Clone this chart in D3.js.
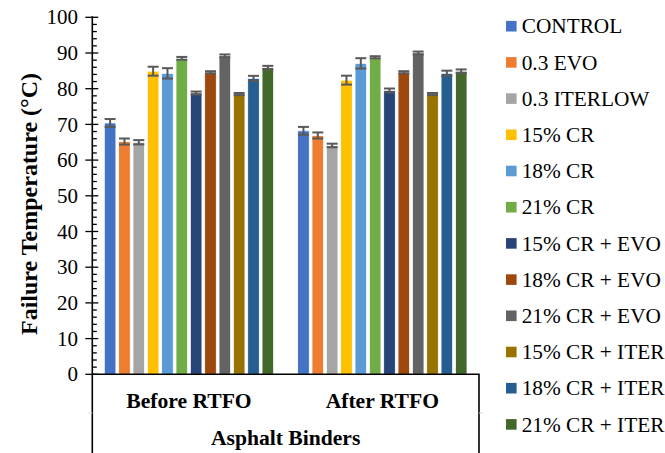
<!DOCTYPE html>
<html>
<head>
<meta charset="utf-8">
<script src="https://cdn.jsdelivr.net/npm/d3@7"></script>
<style>
  html, body { margin: 0; padding: 0; background: #fff; }
  svg text { font-family: "Liberation Serif", "Times New Roman", "DejaVu Serif", serif; }
</style>
</head>
<body>
<svg id="chart" width="665" height="453" font-family="Liberation Serif, Times New Roman, serif"></svg>
<script>
// Binder groups (x categories)
const conditions = ["Before RTFO", "After RTFO"];

// Binder blends (series)
const binders = [
  "CONTROL", "0.3 EVO", "0.3 ITERLOW", "15% CR", "18% CR", "21% CR",
  "15% CR + EVO", "18% CR + EVO", "21% CR + EVO",
  "15% CR + ITER", "18% CR + ITER", "21% CR + ITER"
];

// Failure temperature (°C), one entry per binder
const beforeRTFO = [70.4, 65.2, 65.0, 84.9, 84.3, 88.5, 78.8, 84.6, 89.2, 78.5, 82.9, 85.9];
const afterRTFO  = [68.2, 66.9, 64.1, 82.4, 87.1, 88.8, 79.5, 84.6, 90.0, 78.5, 84.3, 84.9];

// Standard deviation shown by the error bars
const beforeErr = [1.1, 0.85, 0.6, 1.25, 1.45, 0.4, 0.4, 0.3, 0.4, 0.3, 0.7, 0.5];
const afterErr  = [1.1, 0.85, 0.5, 1.25, 1.45, 0.3, 0.55, 0.3, 0.4, 0.3, 0.75, 0.5];

const colors = [
  "#4472C4", "#ED7D31", "#A5A5A5", "#FFC000", "#5B9BD5", "#70AD47",
  "#264478", "#9E480E", "#636363", "#997300", "#255E91", "#43682B"
];

const yTicks = [0, 10, 20, 30, 40, 50, 60, 70, 80, 90, 100];

const values = [beforeRTFO, afterRTFO];
const errors = [beforeErr, afterErr];

const FONT = "'Liberation Serif', 'Times New Roman', 'DejaVu Serif', serif";

const svg = d3.select("#chart");

const plot = { left: 92.3, right: 479, top: 17.3, bottom: 374.3, boxBottom: 453 };

const y = d3.scaleLinear().domain([0, 100]).range([plot.bottom, plot.top]);
const x0 = d3.scaleBand().domain(conditions).range([plot.left, plot.right]);
const groupPad = 12;
const x1 = d3.scaleBand().domain(binders)
  .range([groupPad, x0.bandwidth() - groupPad])
  .paddingInner(0.19).paddingOuter(0);
const color = d3.scaleOrdinal().domain(binders).range(colors);

// Bars
const groups = svg.append("g").selectAll("g")
  .data(conditions)
  .join("g")
  .attr("transform", c => `translate(${x0(c)},0)`);

groups.each(function (c, ci) {
  const g = d3.select(this);
  const rows = binders.map((b, i) => ({ b, v: values[ci][i], e: errors[ci][i] }));

  g.selectAll("rect")
    .data(rows)
    .join("rect")
    .attr("x", d => x1(d.b))
    .attr("y", d => y(d.v))
    .attr("width", x1.bandwidth())
    .attr("height", d => y(0) - y(d.v))
    .attr("fill", d => color(d.b))
    .attr("stroke", "#ffffff")
    .attr("stroke-width", 0.8);

  // Error bars
  const eb = g.selectAll("g.err")
    .data(rows)
    .join("g")
    .attr("class", "err")
    .attr("stroke", "#595959")
    .attr("stroke-width", 2);
  const cx = d => x1(d.b) + x1.bandwidth() / 2;
  const half = 5.5;
  eb.append("line")
    .attr("x1", cx).attr("x2", cx)
    .attr("y1", d => y(d.v + d.e)).attr("y2", d => y(d.v - d.e));
  eb.append("line")
    .attr("x1", d => cx(d) - half).attr("x2", d => cx(d) + half)
    .attr("y1", d => y(d.v + d.e)).attr("y2", d => y(d.v + d.e));
  eb.append("line")
    .attr("x1", d => cx(d) - half).attr("x2", d => cx(d) + half)
    .attr("y1", d => y(d.v - d.e)).attr("y2", d => y(d.v - d.e));
});

// Y axis: major ticks cross the line, minor ticks point inward
const axisG = svg.append("g").attr("stroke", "#000");
const minorTicks = d3.range(0, 101, 2).filter(v => v % 10 !== 0);
axisG.selectAll("line.minor")
  .data(minorTicks)
  .join("line")
  .attr("class", "minor")
  .attr("x1", plot.left).attr("x2", plot.left + 4.5)
  .attr("y1", d => y(d)).attr("y2", d => y(d))
  .attr("stroke-width", 1.3);
axisG.selectAll("line.major")
  .data(yTicks)
  .join("line")
  .attr("class", "major")
  .attr("x1", plot.left - 7).attr("x2", plot.left + 6)
  .attr("y1", d => y(d)).attr("y2", d => y(d))
  .attr("stroke-width", 1.3);

svg.append("g").selectAll("text")
  .data(yTicks)
  .join("text")
  .attr("x", 78)
  .attr("y", d => y(d))
  .attr("dy", "0.34em")
  .attr("text-anchor", "end")
  .style("font-family", FONT)
  .attr("font-size", 21)
  .attr("fill", "#000")
  .text(d => d);

// Axis line plus the category box below the plot
svg.append("path")
  .attr("d", `M${plot.left},${plot.top - 1}V${plot.boxBottom}M${plot.left},${plot.bottom}H${plot.right}V${plot.boxBottom}`)
  .attr("fill", "none")
  .attr("stroke", "#000")
  .attr("stroke-width", 1.6);

// Faint separators between the two category levels
svg.append("g").attr("stroke", "#d9d9d9").attr("stroke-width", 1)
  .selectAll("line")
  .data([[plot.left - 4, plot.left], [plot.right, plot.right + 4]])
  .join("line")
  .attr("x1", d => d[0]).attr("x2", d => d[1])
  .attr("y1", 413).attr("y2", 413);

// Category labels
svg.append("g").selectAll("text")
  .data(conditions)
  .join("text")
  .attr("x", c => x0(c) + x0.bandwidth() / 2)
  .attr("y", 407.5)
  .attr("text-anchor", "middle")
  .style("font-family", FONT)
  .attr("font-size", 21.6)
  .attr("font-weight", "bold")
  .text(c => c);

svg.append("text")
  .attr("x", (plot.left + plot.right) / 2)
  .attr("y", 445)
  .attr("text-anchor", "middle")
  .style("font-family", FONT)
  .attr("font-size", 21.6)
  .attr("font-weight", "bold")
  .text("Asphalt Binders");

// Y axis title
svg.append("text")
  .attr("transform", `translate(37,204) rotate(-90)`)
  .attr("text-anchor", "middle")
  .style("font-family", FONT)
  .attr("font-size", 24)
  .attr("font-weight", "bold")
  .text("Failure Temperature (°C)");

// Legend
const legend = svg.append("g").selectAll("g")
  .data(binders)
  .join("g")
  .attr("transform", (d, i) => `translate(506,${26.2 + i * 36.2})`);
legend.append("rect")
  .attr("x", 0).attr("y", -5.3)
  .attr("width", 10.6).attr("height", 10.6)
  .attr("fill", d => color(d));
legend.append("text")
  .attr("x", 15.7)
  .attr("y", 0)
  .attr("dy", "0.34em")
  .style("font-family", FONT)
  .attr("font-size", 21.3)
  .attr("fill", "#000")
  .text(d => d);
</script>
</body>
</html>
